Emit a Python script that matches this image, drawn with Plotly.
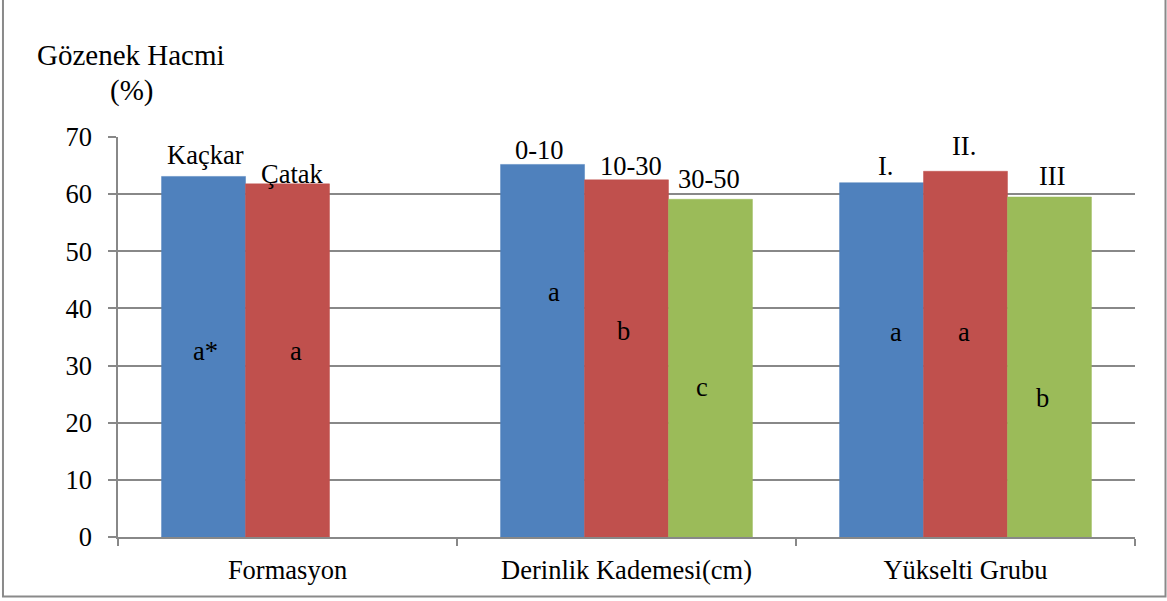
import plotly.graph_objects as go

categories = ["Formasyon", "Derinlik Kademesi(cm)", "Yükselti Grubu"]

# series values (None = no bar)
series1 = [63.1, 65.2, 62.0]   # blue
series2 = [61.8, 62.5, 64.0]   # red
series3 = [None, 59.1, 59.5]   # green

# labels above bars
top1 = ["Kaçkar", "0-10", "I."]
top2 = ["Çatak", "10-30", "II."]
top3 = [None, "30-50", "III"]
top1_y = [66.8, 67.8, 64.9]
top2_y = [63.6, 64.9, 68.5]
top3_y = [None, 62.6, 63.1]
top1_dx = [2, -3, 4]
top2_dx = [5, 4, -2]
top3_dx = [0, -1, 3]

# significance letters inside bars
in1 = ["a*", "a", "a"]
in2 = ["a", "b", "a"]
in3 = [None, "c", "b"]
in1_y = [32.5, 42.8, 35.8]
in2_y = [32.5, 36.0, 35.8]
in3_y = [None, 26.3, 24.4]
in1_dx = [2, 11, 14]
in2_dx = [8, -3, -2]
in3_dx = [0, -8, -7]

colors = ["#4F81BD", "#C0504D", "#9BBB59"]
FONT = "'Liberation Serif', 'Times New Roman', Tinos, 'DejaVu Serif', serif"
FS = 26.5

fig = go.Figure()
for vals, col in zip([series1, series2, series3], colors):
    fig.add_trace(go.Bar(x=categories, y=vals, marker=dict(color=col, line=dict(color=col, width=0.5)),
                         showlegend=False))

bargap = 0.257
bw = (1 - bargap) / 3
offsets = [-bw, 0, bw]

annotations = []
for si, (tops, tys, tdx, ins, iys, dxs) in enumerate([
        (top1, top1_y, top1_dx, in1, in1_y, in1_dx),
        (top2, top2_y, top2_dx, in2, in2_y, in2_dx),
        (top3, top3_y, top3_dx, in3, in3_y, in3_dx)]):
    for ci in range(len(categories)):
        xc = ci + offsets[si]
        if tops[ci] is not None:
            annotations.append(dict(x=xc, y=tys[ci], xref="x", yref="y", text=tops[ci],
                                    showarrow=False, yanchor="middle", xshift=tdx[ci],
                                    font=dict(family=FONT, size=FS, color="black")))
        if ins[ci] is not None:
            annotations.append(dict(x=xc, y=iys[ci], xref="x", yref="y", text=ins[ci],
                                    showarrow=False, yanchor="middle", xshift=dxs[ci],
                                    font=dict(family=FONT, size=FS, color="black")))

annotations.append(dict(x=0.0123, y=1.205, xref="paper", yref="paper", text="Gözenek Hacmi",
                        showarrow=False, xanchor="center", yanchor="middle",
                        font=dict(family=FONT, size=29, color="black")))
annotations.append(dict(x=0.0128, y=1.1175, xref="paper", yref="paper", text="(%)",
                        showarrow=False, xanchor="center", yanchor="middle",
                        font=dict(family=FONT, size=29, color="black")))

fig.update_layout(
    width=1167, height=601,
    margin=dict(l=118, r=32, t=137, b=64),
    paper_bgcolor="white", plot_bgcolor="white",
    barmode="group", bargap=bargap, bargroupgap=0,
    annotations=annotations,
    font=dict(family=FONT, size=FS, color="black"),
    shapes=[dict(type="rect", xref="paper", yref="paper",
                 x0=-0.1131, x1=1.030, y0=-0.149, y1=1.40,
                 line=dict(color="#8a8a8a", width=2), layer="below")],
)
fig.update_xaxes(
    type="category", range=[-0.5, 2.5],
    showline=True, linecolor="#888888", linewidth=1.5,
    ticks="outside", tickson="boundaries", ticklen=7, tickcolor="#888888", tickwidth=1.5,
    tickfont=dict(family=FONT, size=FS, color="black"),
    ticklabelstandoff=8,
    showgrid=False,
)
fig.update_yaxes(
    range=[0, 70], dtick=10, tick0=0,
    showline=True, linecolor="#888888", linewidth=1.5,
    ticks="outside", ticklen=8, tickcolor="#888888", tickwidth=1.5,
    showgrid=True, gridcolor="#888888", gridwidth=1.5,
    zeroline=False,
    tickfont=dict(family=FONT, size=FS, color="black"),
    ticklabelstandoff=11,
)

fig.write_html("out.html")
